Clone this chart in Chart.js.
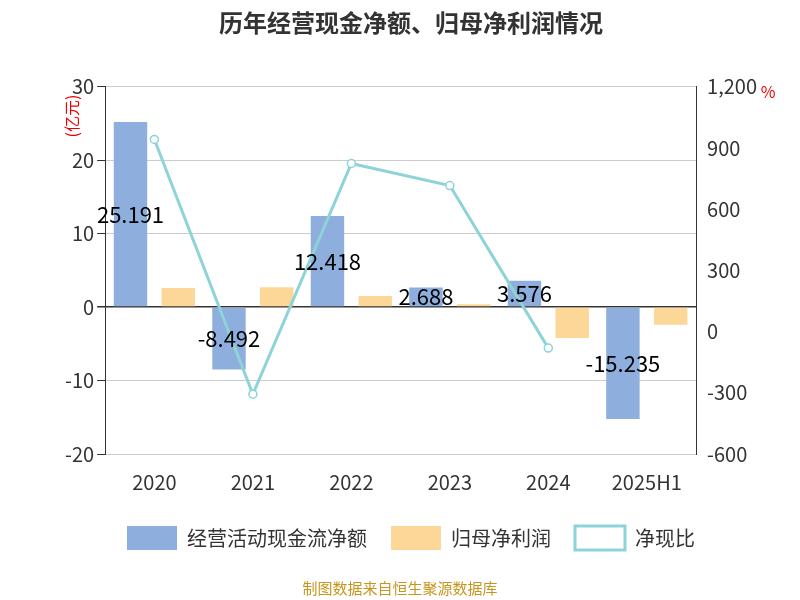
<!DOCTYPE html>
<html><head><meta charset="utf-8">
<script src="https://cdn.jsdelivr.net/npm/chart.js@4"></script>
<style>body{margin:0;background:#fff}#wrap{width:800px;height:600px;position:relative}</style>
</head><body><div id="wrap"><canvas id="c" width="800" height="600"></canvas></div>
<script>
const categories = ["2020", "2021", "2022", "2023", "2024", "2025H1"];
const cashFlow = [25.191, -8.492, 12.418, 2.688, 3.576, -15.235];
const netProfit = [2.6, 2.7, 1.5, 0.4, -4.2, -2.4];
const ratio = [942, -307, 824, 716, -81, null];

const font = "'Noto Sans CJK SC', 'Noto Sans', sans-serif";

const extras = {
  id: "extras",
  afterDraw(chart) {
    const ctx = chart.ctx;
    const meta = chart.getDatasetMeta(0);
    ctx.save();
    ctx.font = "22px " + font;
    ctx.fillStyle = "#000";
    ctx.textAlign = "center";
    ctx.textBaseline = "middle";
    meta.data.forEach((bar, i) => {
      ctx.fillText(cashFlow[i].toString(), bar.x, (bar.y + bar.base) / 2);
    });
    ctx.fillStyle = "#e00";
    ctx.font = "16px " + font;
    ctx.save();
    ctx.translate(72, 116);
    ctx.rotate(-Math.PI / 2);
    ctx.fillText("(亿元)", 0, 0);
    ctx.restore();
    ctx.fillText("%", 768, 92);
    ctx.fillStyle = "#c8961e";
    ctx.font = "15px " + font;
    ctx.fillText("制图数据来自恒生聚源数据库", 400, 588);
    ctx.restore();
  }
};

new Chart(document.getElementById("c"), {
  data: {
    labels: categories,
    datasets: [
      { type: "bar", label: "经营活动现金流净额", data: cashFlow, backgroundColor: "#8eaedd", yAxisID: "y", order: 2, barPercentage: 0.7, categoryPercentage: 0.97 },
      { type: "bar", label: "归母净利润", data: netProfit, backgroundColor: "#fdd797", yAxisID: "y", order: 2, barPercentage: 0.7, categoryPercentage: 0.97 },
      { type: "line", label: "净现比", data: ratio, borderColor: "#8dd3d8", backgroundColor: "#fff", borderWidth: 3, pointRadius: 4, pointBorderWidth: 1.5, pointBackgroundColor: "#fff", yAxisID: "y1", order: 1, tension: 0 }
    ]
  },
  options: {
    responsive: false,
    animation: false,
    layout: { padding: { left: 62, right: 40, top: 0, bottom: 40 } },
    plugins: {
      title: { display: true, text: "历年经营现金净额、归母净利润情况", font: { family: font, size: 24, weight: "bold" }, color: "#333", padding: { top: 8, bottom: 50 } },
      legend: {
        position: "bottom",
        labels: { font: { family: font, size: 20 }, color: "#333", boxWidth: 50, boxHeight: 24, padding: 24,
          sort: (a, b) => a.datasetIndex - b.datasetIndex,
          generateLabels(chart) {
            const items = Chart.defaults.plugins.legend.labels.generateLabels(chart);
            items.forEach(it => { if (it.datasetIndex === 2) { it.pointStyle = "line"; it.lineWidth = 3; } });
            return items;
          }
        }
      },
      tooltip: { enabled: false }
    },
    scales: {
      x: { grid: { display: false }, border: { display: false }, ticks: { font: { family: font, size: 20 }, color: "#333", padding: 8 } },
      y: { position: "left", min: -20, max: 30, ticks: { stepSize: 10, font: { family: font, size: 20 }, color: "#333" },
        grid: { color: c => c.tick.value === 0 ? "#333" : "#ccc", lineWidth: c => c.tick.value === 0 ? 1.5 : 1, tickColor: "#333" }, border: { color: "#333" } },
      y1: { position: "right", min: -600, max: 1200, ticks: { stepSize: 300, font: { family: font, size: 20 }, color: "#333", callback: v => v.toLocaleString("en-US") }, grid: { display: false, drawTicks: true, tickColor: "#333" }, border: { color: "#333" } }
    }
  },
  plugins: [extras]
});
</script></body></html>
